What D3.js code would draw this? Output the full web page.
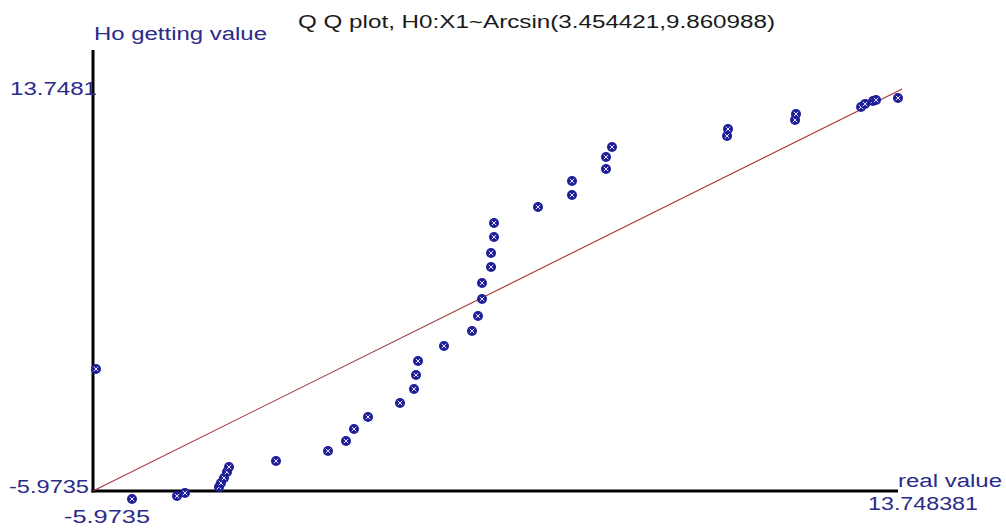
<!DOCTYPE html>
<html>
<head>
<meta charset="utf-8">
<script src="https://cdn.jsdelivr.net/npm/d3@7"></script>
<style>
  html, body { margin: 0; padding: 0; background: #fff; }
  svg { display: block; font-family: "Liberation Sans", Arial, sans-serif; }
</style>
</head>
<body>
<svg id="chart" width="1006" height="528"></svg>
<script>
// Q-Q plot: real value (x) against value under H0 (y)
const title = "Q Q plot, H0:X1~Arcsin(3.454421,9.860988)";
const xAxisName = "real value";
const yAxisName = "Ho getting value";
const xDomain = [-5.9735, 13.748381];
const yDomain = [-5.9735, 13.7481];
const xTickLabels = ["-5.9735", "13.748381"];
const yTickLabels = ["-5.9735", "13.7481"];

const realValues = [
  -5.900, -5.018, -3.916, -3.720, -2.887, -2.838, -2.764, -2.691, -2.642,
  -1.490, -0.216, 0.225, 0.421, 0.764, 1.548, 1.891, 1.940, 1.989,
  2.626, 3.312, 3.459, 3.557, 3.557, 3.778, 3.778, 3.851, 3.851,
  4.929, 5.762, 5.762, 6.595, 6.595, 6.742, 9.560, 9.584, 11.226,
  11.250, 12.843, 12.941, 13.137, 13.211, 13.748
];
const h0Values = [
  0.042, -6.368, -6.220, -6.072, -5.776, -5.579, -5.332, -5.037, -4.790,
  -4.494, -3.998, -3.508, -2.917, -2.325, -1.635, -0.944, -0.254, 0.436,
  1.176, 1.916, 2.654, 3.493, 4.282, 5.071, 5.761, 6.550, 7.240,
  8.029, 8.621, 9.311, 9.903, 10.494, 10.987, 11.529, 11.874, 12.318,
  12.614, 12.959, 13.107, 13.255, 13.304, 13.403
];
// reference line y = x, drawn across the plot
const refLine = [-5.9735, 13.85];

const svg = d3.select("#chart");
const x = d3.scaleLinear().domain(xDomain).range([93, 898]);
const y = d3.scaleLinear().domain(yDomain).range([491, 91]);

const navy = "#2b2b8a";

// axes
svg.append("line")
  .attr("x1", x(xDomain[0])).attr("x2", x(xDomain[0]))
  .attr("y1", 50).attr("y2", y(yDomain[0]) + 1.5)
  .attr("stroke", "#000").attr("stroke-width", 3);
svg.append("line")
  .attr("x1", x(xDomain[0]) - 1.5).attr("x2", x(xDomain[1]))
  .attr("y1", y(yDomain[0])).attr("y2", y(yDomain[0]))
  .attr("stroke", "#000").attr("stroke-width", 3);

// reference line
svg.append("line")
  .attr("x1", x(refLine[0])).attr("y1", y(refLine[0]))
  .attr("x2", x(refLine[1])).attr("y2", y(refLine[1]))
  .attr("stroke", "#a83232").attr("stroke-width", 1.1);

// points
const pts = d3.zip(realValues, h0Values);
const g = svg.append("g").selectAll("g").data(pts).join("g")
  .attr("transform", d => `translate(${x(d[0])},${y(d[1])})`);
g.append("circle").attr("r", 5).attr("fill", "#1e1e98");
g.append("path")
  .attr("d", "M-2.2,-2.2L2.2,2.2M-2.2,2.2L2.2,-2.2")
  .attr("stroke", "#e8e8ff").attr("stroke-width", 1);

// texts
function label(txt, x0, base, len, color) {
  svg.append("text")
    .attr("x", x0).attr("y", base)
    .attr("font-size", 18)
    .attr("fill", color)
    .attr("textLength", len)
    .attr("lengthAdjust", "spacingAndGlyphs")
    .text(txt);
}
label(title, 298, 28, 477, "#1a1a1a");
label(yAxisName, 94, 40, 173, navy);
label(yTickLabels[1], 10, 95, 87, navy);
label(yTickLabels[0], 9, 493, 80, navy);
label(xTickLabels[0], 64, 523, 86, navy);
label(xTickLabels[1], 868, 510, 110, navy);
label(xAxisName, 898, 487, 104, navy);
</script>
</body>
</html>
